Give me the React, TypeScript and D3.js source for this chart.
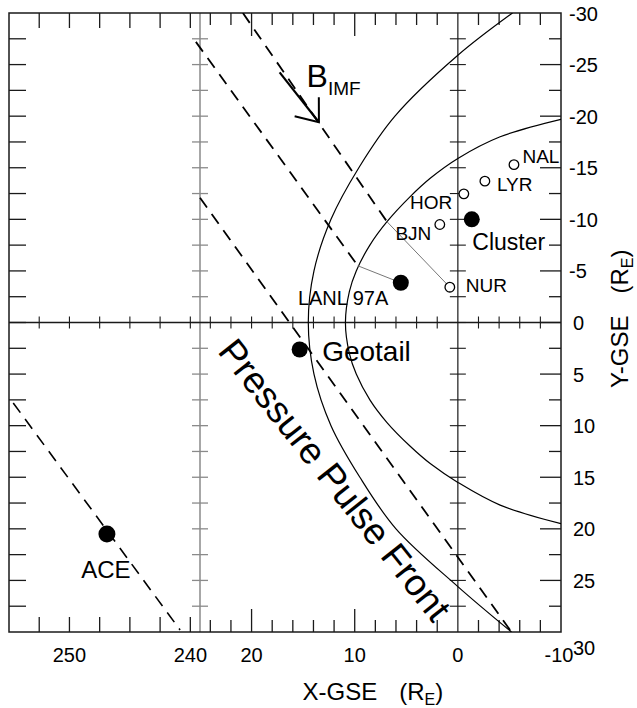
import React from 'react';
import * as d3 from 'd3';

// ---------- data ----------
const yTickLabels = [-30, -25, -20, -15, -10, -5, 0, 5, 10, 15, 20, 25, 30];
const xMidTickLabels = [20, 10, 0, -10];
const xLeftTickLabels = [250, 240];

// Bow shock boundary (X-GSE, Y-GSE)
const bowShockX = [-5.3, 0, 6.1, 9.6, 12.3, 13.95, 14.5, 13.95, 12.3, 9.5, 6.0, 0, -5.2];
const bowShockY = [-30, -25.9, -20, -15, -10, -5, 0, 5, 10, 15, 20, 25.6, 30];

// Magnetopause boundary (X-GSE, Y-GSE)
const mpX = [-10, -4.1, 0, 2.65, 4.62, 6.87, 8.53, 9.85, 10.52, 10.9, 10.52, 9.85, 8.53, 6.87, 4.62, 2.65, 0, -4.1, -10];
const mpY = [-19.7, -18.0, -15.9, -14.0, -12.2, -9.77, -7.5, -5, -3, 0, 3, 5, 7.5, 9.7, 12.0, 13.7, 15.5, 17.7, 19.5];

// Pressure pulse front lines (middle panel)
const frontNames = ['f1', 'f2', 'f3'];
const frontX1 = [20.84, 25.4, 25.0];
const frontY1 = [-30, -27.2, -12.1];
const frontX2 = [6.87, 9.7, -5.2];
const frontY2 = [-9.77, -5.5, 30];

// Pressure pulse front at ACE (left panel)
const aceFrontX = [254.65, 240.85];
const aceFrontY = [7.8, 29.8];

// IMF arrow
const bimfX = [17.28, 13.47];
const bimfY = [-24.25, -19.41];

// Ground stations (open circles)
const stationNames = ['NAL', 'LYR', 'HOR', 'BJN', 'NUR'];
const stationX = [-5.44, -2.62, -0.58, 1.75, 0.78];
const stationY = [-15.3, -13.7, -12.47, -9.5, -3.42];

// Spacecraft (filled circles)
const craftNames = ['Cluster', 'LANL 97A', 'Geotail'];
const craftX = [-1.35, 5.53, 15.34];
const craftY = [-10.0, -3.85, 2.62];
const aceX = 246.9;
const aceY = 20.5;

// ---------- layout ----------
const W = 637;
const H = 708;
const L = 9, R = 561, T = 13, B = 632, DIV = 200;
const FONT = "'Liberation Sans', Arial, Helvetica, sans-serif";

const stationLabelStyle: Record<string, { dx: number; dy: number; anchor: string }> = {
  NAL: { dx: 8.5, dy: -1.5, anchor: 'start' },
  LYR: { dx: 12, dy: 10, anchor: 'start' },
  HOR: { dx: -11.5, dy: 15.5, anchor: 'end' },
  BJN: { dx: -8.5, dy: 15.5, anchor: 'end' },
  NUR: { dx: 16, dy: 5, anchor: 'start' },
};
const craftLabelStyle: Record<string, { dx: number; dy: number; anchor: string; size: number }> = {
  Cluster: { dx: 0.5, dy: 31, anchor: 'start', size: 23 },
  'LANL 97A': { dx: -12.5, dy: 22.5, anchor: 'end', size: 20 },
  Geotail: { dx: 22.5, dy: 11, anchor: 'start', size: 28 },
};

export default function App() {
  const xM = d3.scaleLinear().domain([25, -10]).range([DIV, R]);
  const xL = d3.scaleLinear().domain([255, 239.2]).range([L, DIV]);
  const y = d3.scaleLinear().domain([-30, 30]).range([T, B]);

  const curve = d3
    .line<[number, number]>()
    .x((d) => xM(d[0]))
    .y((d) => y(d[1]))
    .curve(d3.curveCatmullRom.alpha(0.5));

  const bowPts = bowShockX.map((v, i) => [v, bowShockY[i]] as [number, number]);
  const mpPts = mpX.map((v, i) => [v, mpY[i]] as [number, number]);

  const yMinor = d3.range(-27.5, 30, 2.5);
  const xMidTicks = d3.range(24, -10, -2).filter((v) => v !== 0);
  const xLeftTicks = d3.range(252.5, 239.9, -2.5);
  const x0 = xM(0);
  const y0 = y(0);

  const ink = '#1a1a1a';

  // arrow geometry
  const ax1 = xM(bimfX[0]), ay1 = y(bimfY[0]);
  const ax2 = xM(bimfX[1]), ay2 = y(bimfY[1]);
  const ang = Math.atan2(ay1 - ay2, ax1 - ax2);
  const barb = 25;
  const spread = (38 * Math.PI) / 180;
  const b1 = [ax2 + barb * Math.cos(ang + spread), ay2 + barb * Math.sin(ang + spread)];
  const b2 = [ax2 + barb * Math.cos(ang - spread), ay2 + barb * Math.sin(ang - spread)];

  const nurIdx = stationNames.indexOf('NUR');
  const lanlIdx = craftNames.indexOf('LANL 97A');

  return (
    <svg
      width={W}
      height={H}
      style={{ position: 'absolute', left: 0, top: 0, background: '#fff' }}
      fontFamily={FONT}
    >
      <defs>
        <clipPath id="midClip">
          <rect x={DIV} y={T} width={R - DIV} height={B - T} />
        </clipPath>
        <clipPath id="allClip">
          <rect x={L} y={T} width={R - L} height={B - T} />
        </clipPath>
      </defs>
      <rect x={0} y={0} width={W} height={H} fill="#fff" />

      {/* left border ticks */}
      {yMinor.map((v) => (
        <line key={'lb' + v} x1={L} x2={L + 17} y1={y(v)} y2={y(v)} stroke={ink} strokeWidth={1.3} />
      ))}
      {/* right border ticks */}
      {yMinor.map((v) => (
        <line
          key={'rb' + v}
          x1={R}
          x2={R - (v % 5 === 0 ? 21 : 12)}
          y1={y(v)}
          y2={y(v)}
          stroke={ink}
          strokeWidth={1.3}
        />
      ))}
      {/* divider line with ticks */}
      <line x1={DIV} x2={DIV} y1={T} y2={B} stroke="#8a8a8a" strokeWidth={1.5} />
      {yMinor.map((v) => (
        <line key={'dv' + v} x1={DIV - 8} x2={DIV + 8} y1={y(v)} y2={y(v)} stroke="#8a8a8a" strokeWidth={1.3} />
      ))}
      {/* middle panel top/bottom ticks */}
      {xMidTicks.map((v) => {
        const len = v % 10 === 0 ? 23 : 12;
        return (
          <g key={'mt' + v}>
            <line x1={xM(v)} x2={xM(v)} y1={T} y2={T + len} stroke={ink} strokeWidth={1.3} />
            <line x1={xM(v)} x2={xM(v)} y1={B} y2={B - len} stroke={ink} strokeWidth={1.3} />
            <line x1={xM(v)} x2={xM(v)} y1={y0 - 6} y2={y0 + 6} stroke={ink} strokeWidth={1.1} />
          </g>
        );
      })}
      {/* left panel top/bottom ticks */}
      {xLeftTicks.map((v) => (
        <g key={'lt' + v}>
          <line x1={xL(v)} x2={xL(v)} y1={T} y2={T + 15} stroke={ink} strokeWidth={1.3} />
          <line x1={xL(v)} x2={xL(v)} y1={B} y2={B - 15} stroke={ink} strokeWidth={1.3} />
          <line x1={xL(v)} x2={xL(v)} y1={y0 - 6} y2={y0 + 6} stroke={ink} strokeWidth={1.1} />
        </g>
      ))}
      {/* X = 0 line with cross ticks */}
      <line x1={x0} x2={x0} y1={T} y2={B} stroke={ink} strokeWidth={1.2} />
      {yMinor.map((v) => (
        <line key={'x0' + v} x1={x0 - 8} x2={x0 + 8} y1={y(v)} y2={y(v)} stroke={ink} strokeWidth={1.1} />
      ))}
      {/* Y = 0 line */}
      <line x1={L} x2={R} y1={y0} y2={y0} stroke={ink} strokeWidth={1.4} />

      {/* frame */}
      <rect x={L} y={T} width={R - L} height={B - T} fill="none" stroke={ink} strokeWidth={1.5} />

      {/* boundaries */}
      <g clipPath="url(#midClip)">
        <path d={curve(bowPts) || ''} fill="none" stroke="#000" strokeWidth={1.2} />
        <path d={curve(mpPts) || ''} fill="none" stroke="#000" strokeWidth={1.2} />
      </g>

      {/* pulse fronts */}
      <g clipPath="url(#allClip)">
        {frontNames.map((n, i) => (
          <line
            key={n}
            x1={xM(frontX1[i])}
            y1={y(frontY1[i])}
            x2={xM(frontX2[i])}
            y2={y(frontY2[i])}
            stroke="#000"
            strokeWidth={1.8}
            strokeDasharray="12 8"
          />
        ))}
        <line
          x1={xL(aceFrontX[0])}
          y1={y(aceFrontY[0])}
          x2={xL(aceFrontX[1])}
          y2={y(aceFrontY[1])}
          stroke="#000"
          strokeWidth={1.6}
          strokeDasharray="12 8"
        />
      </g>

      {/* connectors */}
      <line
        x1={xM(frontX2[0])}
        y1={y(frontY2[0])}
        x2={xM(stationX[nurIdx])}
        y2={y(stationY[nurIdx])}
        stroke="#777"
        strokeWidth={1}
      />
      <line
        x1={xM(frontX2[1])}
        y1={y(frontY2[1])}
        x2={xM(craftX[lanlIdx])}
        y2={y(craftY[lanlIdx])}
        stroke="#777"
        strokeWidth={1}
      />

      {/* IMF arrow */}
      <line x1={ax1} y1={ay1} x2={ax2} y2={ay2} stroke="#000" strokeWidth={2.2} />
      <polyline
        points={`${b1[0]},${b1[1]} ${ax2},${ay2} ${b2[0]},${b2[1]}`}
        fill="none"
        stroke="#000"
        strokeWidth={2}
      />
      <text x={306.5} y={86.5} fontSize={32} fill="#000">
        B
      </text>
      <text x={328} y={95} fontSize={19} fill="#000">
        IMF
      </text>

      {/* stations */}
      {stationNames.map((n, i) => {
        const cx = xM(stationX[i]);
        const cy = y(stationY[i]);
        const s = stationLabelStyle[n];
        return (
          <g key={n}>
            <circle cx={cx} cy={cy} r={4.8} fill="#fff" stroke="#000" strokeWidth={1.3} />
            <text x={cx + s.dx} y={cy + s.dy} fontSize={19} textAnchor={s.anchor as any} fill="#000">
              {n}
            </text>
          </g>
        );
      })}

      {/* spacecraft */}
      {craftNames.map((n, i) => {
        const cx = xM(craftX[i]);
        const cy = y(craftY[i]);
        const s = craftLabelStyle[n];
        return (
          <g key={n}>
            <circle cx={cx} cy={cy} r={8} fill="#000" />
            <text x={cx + s.dx} y={cy + s.dy} fontSize={s.size} textAnchor={s.anchor as any} fill="#000">
              {n}
            </text>
          </g>
        );
      })}
      <circle cx={xL(aceX)} cy={y(aceY)} r={8.5} fill="#000" />
      <text x={xL(aceX) - 1} y={y(aceY) + 44} fontSize={24} textAnchor="middle" fill="#000">
        ACE
      </text>

      {/* Pressure Pulse Front */}
      <text
        transform={`translate(${xM(13.86) + 10},${y(16.5) - 5}) rotate(51.5)`}
        fontSize={37}
        textAnchor="middle"
        fill="#000"
      >
        Pressure Pulse Front
      </text>

      {/* Y tick labels */}
      {yTickLabels.map((v) => (
        <text
          key={'yl' + v}
          x={v < 0 ? 569 : 573}
          y={v === 30 ? 655 : y(v) + 7.5}
          fontSize={20}
          fill="#000"
        >
          {v}
        </text>
      ))}
      {/* X tick labels */}
      {xMidTickLabels.map((v) => (
        <text key={'xm' + v} x={xM(v) - (v === -10 ? 2 : 0)} y={662} fontSize={20} textAnchor="middle" fill="#000">
          {v}
        </text>
      ))}
      {xLeftTickLabels.map((v) => (
        <text key={'xl' + v} x={xL(v)} y={662} fontSize={20} textAnchor="middle" fill="#000">
          {v}
        </text>
      ))}

      {/* axis titles */}
      <text x={302.5} y={699.5} fontSize={24} fill="#000">
        X-GSE
        <tspan dx={22}>(R</tspan>
        <tspan fontSize={16} dy={5}>
          E
        </tspan>
        <tspan dy={-5}>)</tspan>
      </text>
      <text transform="translate(628,388) rotate(-90)" fontSize={24} fill="#000">
        Y-GSE
        <tspan dx={22}>(R</tspan>
        <tspan fontSize={16} dy={5}>
          E
        </tspan>
        <tspan dy={-5}>)</tspan>
      </text>
    </svg>
  );
}
